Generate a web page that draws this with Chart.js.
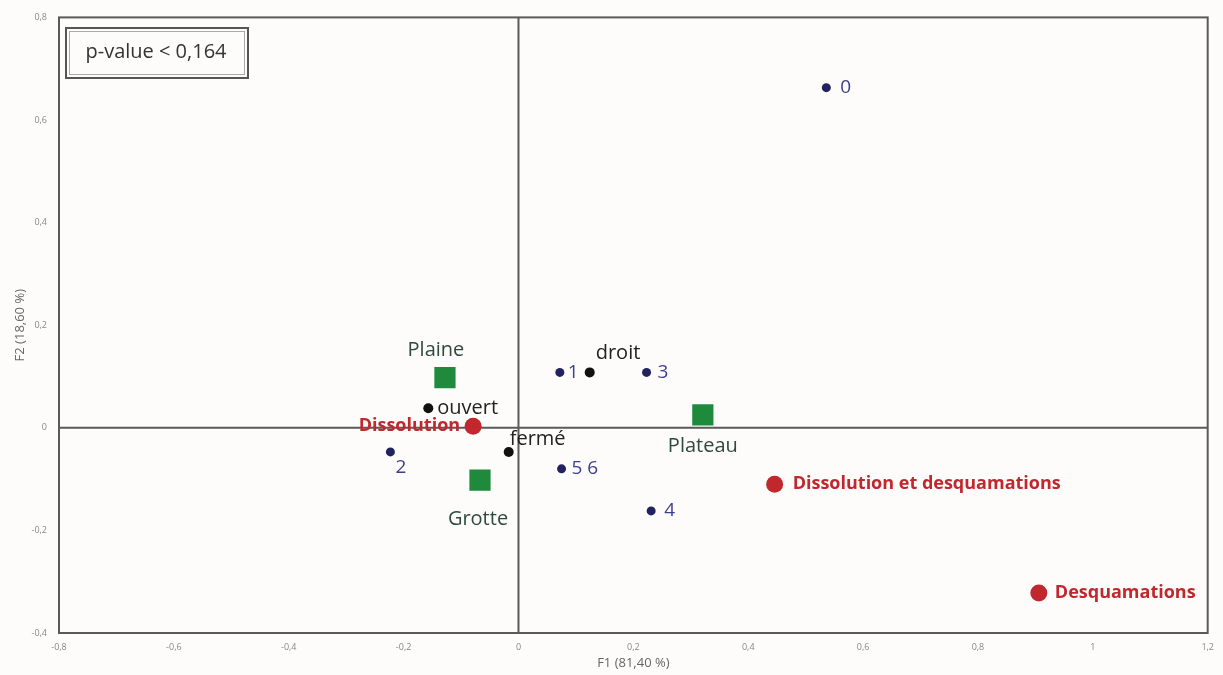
<!DOCTYPE html>
<html>
<head>
<meta charset="utf-8">
<script src="https://cdn.jsdelivr.net/npm/chart.js@4"></script>
<style>
  html, body { margin: 0; padding: 0; background: #fdfcfb; overflow: hidden; }
  #wrap { width: 1223px; height: 675px; position: relative; }
  canvas { display: block; }
</style>
</head>
<body>
<div id="wrap"><canvas id="c"></canvas></div>
<script>
// Modalités d'état (nombre) : points bleus
const numLabels = ['0', '1', '3', '2', '5 6', '4'];
const numX = [0.536, 0.072, 0.223, -0.223, 0.075, 0.231];
const numY = [0.663, 0.108, 0.108, -0.047, -0.080, -0.162];

// Orientation : points noirs
const orientLabels = ['droit', 'ouvert', 'fermé'];
const orientX = [0.124, -0.157, -0.017];
const orientY = [0.108, 0.038, -0.047];

// Site : carrés verts
const siteLabels = ['Plaine', 'Plateau', 'Grotte'];
const siteX = [-0.128, 0.321, -0.067];
const siteY = [0.098, 0.025, -0.102];

// Altération : points rouges
const altLabels = ['Dissolution', 'Dissolution et desquamations', 'Desquamations'];
const altX = [-0.079, 0.446, 0.906];
const altY = [0.003, -0.110, -0.322];

const xTitle = 'F1 (81,40 %)';
const yTitle = 'F2 (18,60 %)';
const pValueText = 'p-value < 0,164';

// placement des étiquettes (dx, dy, align) – style uniquement
const numPlace = [[14, 0, 'left'], [8, 0, 'left'], [11, 0, 'left'], [5, 16, 'left'], [10, 0, 'left'], [13, 0, 'left']];
const orientPlace = [[6, -19, 'left'], [9, 0, 'left'], [1, -13, 'left']];
const sitePlace = [[-9, -27, 'center'], [0, 31, 'center'], [-2, 39, 'center']];
const altPlace = [[-13, 0, 'right'], [18, 0, 'left'], [16, 0, 'left']];

const toPts = (xs, ys) => xs.map((x, i) => ({ x: x, y: ys[i] }));
const fmt = v => String(Math.round(v * 10) / 10).replace('.', ',');

const AXIS = '#5a5a5a';

const labelPlugin = {
  id: 'labels',
  afterDatasetsDraw(chart) {
    const ctx = chart.ctx;
    chart.data.datasets.forEach((ds, di) => {
      const meta = chart.getDatasetMeta(di);
      meta.data.forEach((el, i) => {
        const p = ds.place[i];
        ctx.save();
        ctx.font = ds.labelFont;
        ctx.fillStyle = ds.labelColor;
        ctx.textAlign = p[2];
        ctx.textBaseline = 'middle';
        ctx.fillText(ds.names[i], el.x + p[0], el.y + p[1]);
        ctx.restore();
      });
    });
  }
};

const framePlugin = {
  id: 'frame',
  beforeDatasetsDraw(chart) {
    const { ctx, chartArea: a, scales } = chart;
    const x0 = scales.x.getPixelForValue(0);
    const y0 = scales.y.getPixelForValue(0);
    ctx.save();
    ctx.strokeStyle = AXIS;
    ctx.lineWidth = 2;
    ctx.strokeRect(a.left, a.top, a.right - a.left, a.bottom - a.top);
    ctx.beginPath();
    ctx.moveTo(x0, a.top); ctx.lineTo(x0, a.bottom);
    ctx.moveTo(a.left, y0); ctx.lineTo(a.right, y0);
    ctx.stroke();
    // encadré p-value
    ctx.lineWidth = 2;
    ctx.strokeStyle = '#555';
    ctx.strokeRect(66, 28, 182, 50);
    ctx.lineWidth = 1;
    ctx.strokeStyle = '#aaa';
    ctx.strokeRect(69.5, 31.5, 175, 43);
    ctx.fillStyle = '#333';
    ctx.font = '20px "Open Sans", sans-serif';
    ctx.textAlign = 'center';
    ctx.textBaseline = 'middle';
    ctx.fillText(pValueText, 156, 52);
    ctx.restore();
  }
};

new Chart(document.getElementById('c'), {
  type: 'scatter',
  data: {
    datasets: [
      {
        data: toPts(numX, numY), names: numLabels, place: numPlace,
        pointRadius: 4.5, pointBackgroundColor: '#22235e', pointBorderWidth: 0,
        labelFont: '19px "Open Sans", sans-serif', labelColor: '#3b3f8f'
      },
      {
        data: toPts(orientX, orientY), names: orientLabels, place: orientPlace,
        pointRadius: 5, pointBackgroundColor: '#111', pointBorderWidth: 0,
        labelFont: '20px "Open Sans", sans-serif', labelColor: '#222'
      },
      {
        data: toPts(siteX, siteY), names: siteLabels, place: sitePlace,
        pointStyle: 'rect', pointRadius: 15, pointBackgroundColor: '#1f8a3b', pointBorderWidth: 0,
        labelFont: '20px "Open Sans", sans-serif', labelColor: '#2e4a3a'
      },
      {
        data: toPts(altX, altY), names: altLabels, place: altPlace,
        pointRadius: 8.5, pointBackgroundColor: '#c0282e', pointBorderWidth: 0,
        labelFont: 'bold 18px "Open Sans", sans-serif', labelColor: '#c0282e'
      }
    ]
  },
  options: {
    responsive: true,
    maintainAspectRatio: false,
    animation: false,
    layout: { autoPadding: false, padding: { top: 17, right: 4, left: 0, bottom: 0 } },
    plugins: { legend: { display: false }, tooltip: { enabled: false } },
    elements: { point: { hoverRadius: 0 } },
    scales: {
      x: {
        type: 'linear', min: -0.8, max: 1.2,
        grid: { display: false, drawTicks: false },
        border: { display: false },
        ticks: { stepSize: 0.2, callback: fmt, color: '#888', font: { size: 9, family: 'Open Sans' }, padding: 9, maxRotation: 0 },
        title: { display: true, text: xTitle, color: '#666', font: { size: 13, family: 'Open Sans' }, padding: { top: 0 } },
        afterFit(axis) { axis.height = 42; }
      },
      y: {
        type: 'linear', min: -0.4, max: 0.8,
        grid: { display: false, drawTicks: false },
        border: { display: false },
        ticks: { stepSize: 0.2, callback: fmt, color: '#888', font: { size: 9, family: 'Open Sans' }, padding: 12 },
        title: { display: true, text: yTitle, color: '#666', font: { size: 13, family: 'Open Sans' }, padding: { top: 12, bottom: 0 } },
        afterFit(axis) { axis.width = 59; }
      }
    }
  },
  plugins: [framePlugin, labelPlugin]
});
</script>
</body>
</html>
